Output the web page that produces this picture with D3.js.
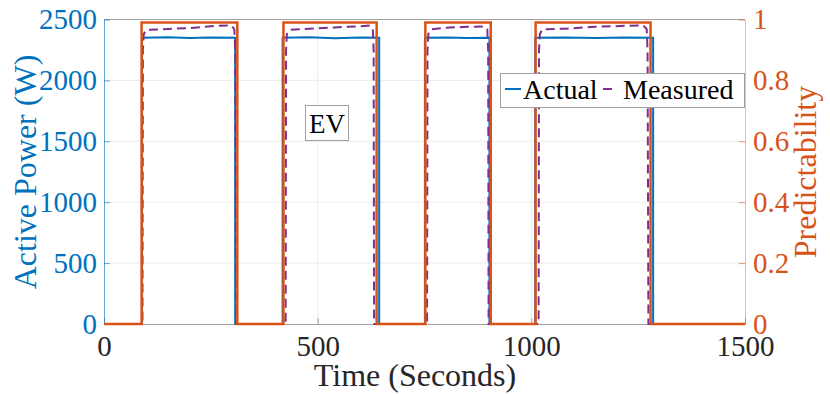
<!DOCTYPE html>
<html>
<head>
<meta charset="utf-8">
<script src="https://cdn.jsdelivr.net/npm/d3@7"></script>
<style>
  body { margin: 0; background: #fff; }
  svg { font-family: 'Liberation Serif', 'DejaVu Serif', serif; }
</style>
</head>
<body>
<div id="chart"></div>
<script>
// Actual power (W), step trace
const actualTime  = [0, 89, 89, 150, 200, 250, 307, 307, 418, 418, 480, 540, 600, 644, 644, 751, 751, 800, 850, 902, 902, 1009, 1009, 1080, 1150, 1220, 1285, 1285, 1500]
const actualPower = [0, 0, 2350, 2355, 2348, 2352, 2350, 0, 0, 2350, 2354, 2347, 2352, 2350, 0, 0, 2350, 2353, 2348, 2350, 0, 0, 2350, 2352, 2348, 2353, 2350, 0, 0]

// Measured power (W), dashed trace
const measuredTime  = [0, 90, 91, 93, 99, 150, 200, 250, 298, 305, 307, 309, 425, 426, 428, 434, 480, 540, 600, 622, 629, 631, 632, 756, 757, 759, 765, 800, 850, 890, 897, 899, 900, 1017, 1018, 1020, 1026, 1080, 1150, 1220, 1262, 1270, 1272, 1274, 1500]
const measuredPower = [0, 0, 2250, 2380, 2415, 2422, 2430, 2445, 2452, 2420, 2250, 0, 0, 2250, 2380, 2415, 2425, 2435, 2445, 2450, 2420, 2250, 0, 0, 2250, 2380, 2420, 2432, 2440, 2442, 2420, 2250, 0, 0, 2250, 2380, 2420, 2425, 2440, 2448, 2452, 2420, 2250, 0, 0]

// Predictability (right axis)
const predTime  = [0, 88, 88, 312, 312, 420, 420, 638, 638, 752, 752, 905, 905, 1010, 1010, 1279, 1279, 1500]
const predValue = [0, 0, 0.99, 0.99, 0, 0, 0.99, 0.99, 0, 0, 0.99, 0.99, 0, 0, 0.99, 0.99, 0, 0]

const xTicks = [0, 500, 1000, 1500]
const leftTicks = [0, 500, 1000, 1500, 2000, 2500]
const rightTicks = [0, 0.2, 0.4, 0.6, 0.8, 1]

const blue = '#0072BD', orange = '#D95319', purple = '#7E2F8E', dark = '#262626'

const svgWidth = 830, svgHeight = 394
const margin = { top: 19.5, right: 85, bottom: 70, left: 104 }
const width = svgWidth - margin.left - margin.right
const height = svgHeight - margin.top - margin.bottom

let svg = d3.select('#chart').append('svg')
    .attr('width', svgWidth)
    .attr('height', svgHeight)

let canvas = svg.append('g')
    .attr('transform', 'translate(' + margin.left + ',' + margin.top + ')')

let x = d3.scaleLinear().domain([0, 1500]).range([0, width])
let yLeft = d3.scaleLinear().domain([0, 2500]).range([height, 0])
let yRight = d3.scaleLinear().domain([0, 1]).range([height, 0])

// grid
canvas.append('g').selectAll('line')
    .data(xTicks.slice(1, -1))
    .enter().append('line')
    .attr('x1', d => x(d)).attr('x2', d => x(d))
    .attr('y1', 0).attr('y2', height)
    .attr('stroke', '#ebebeb').attr('stroke-width', 1)
canvas.append('g').selectAll('line')
    .data(leftTicks.slice(1, -1))
    .enter().append('line')
    .attr('x1', 0).attr('x2', width)
    .attr('y1', d => yLeft(d)).attr('y2', d => yLeft(d))
    .attr('stroke', '#ebebeb').attr('stroke-width', 1)

// top border
canvas.append('line')
    .attr('x1', 0).attr('x2', width).attr('y1', 0).attr('y2', 0)
    .attr('stroke', '#a0a0a0').attr('stroke-width', 1)

// axes
let xAxis = canvas.append('g')
    .attr('transform', 'translate(0,' + height + ')')
    .call(d3.axisBottom(x).tickValues(xTicks).tickFormat(d3.format('d')).tickSizeInner(-6).tickSizeOuter(0).tickPadding(11))
xAxis.select('.domain').attr('stroke', '#a0a0a0')
xAxis.selectAll('.tick line').attr('stroke', '#a0a0a0')
xAxis.selectAll('text').attr('fill', dark).attr('font-size', 29).attr('font-family', 'Liberation Serif')

let leftAxis = canvas.append('g')
    .call(d3.axisLeft(yLeft).tickValues(leftTicks).tickFormat(d3.format('d')).tickSizeInner(-6).tickSizeOuter(0).tickPadding(7))
leftAxis.select('.domain').attr('stroke', blue).attr('stroke-opacity', 0.6)
leftAxis.selectAll('.tick line').attr('stroke', blue).attr('stroke-opacity', 0.6)
leftAxis.selectAll('text').attr('fill', blue).attr('font-size', 29).attr('font-family', 'Liberation Serif')

let rightAxis = canvas.append('g')
    .attr('transform', 'translate(' + width + ',0)')
    .call(d3.axisRight(yRight).tickValues(rightTicks).tickFormat(d3.format('~g')).tickSizeInner(-6).tickSizeOuter(0).tickPadding(8))
rightAxis.select('.domain').attr('stroke', orange).attr('stroke-opacity', 0.4)
rightAxis.selectAll('.tick line').attr('stroke', orange).attr('stroke-opacity', 0.6)
rightAxis.selectAll('text').attr('fill', orange).attr('font-size', 29).attr('font-family', 'Liberation Serif')

// lines
let line = (xs, ys, yScale) => d3.line()
    .x((d, i) => x(xs[i]))
    .y(d => yScale(d))(ys)

canvas.append('path')
    .attr('d', line(actualTime, actualPower, yLeft))
    .attr('fill', 'none').attr('stroke', blue).attr('stroke-width', 2)

canvas.append('path')
    .attr('d', line(measuredTime, measuredPower, yLeft))
    .attr('fill', 'none').attr('stroke', purple).attr('stroke-width', 2)
    .attr('stroke-dasharray', '9,5')

canvas.append('path')
    .attr('d', line(predTime, predValue, yRight))
    .attr('fill', 'none').attr('stroke', orange).attr('stroke-width', 2.5)

// axis titles
svg.append('text')
    .attr('x', 415).attr('y', 386)
    .attr('text-anchor', 'middle')
    .attr('font-size', 32).attr('fill', dark)
    .text('Time (Seconds)')

svg.append('text')
    .attr('transform', 'translate(36,172) rotate(-90)')
    .attr('text-anchor', 'middle')
    .attr('font-size', 32).attr('fill', blue)
    .text('Active Power (W)')

svg.append('text')
    .attr('transform', 'translate(816,172) rotate(-90)')
    .attr('text-anchor', 'middle')
    .attr('font-size', 32).attr('fill', orange)
    .text('Predictability')

// EV label
svg.append('rect')
    .attr('x', 305.5).attr('y', 105.5).attr('width', 43).attr('height', 35)
    .attr('fill', '#fff').attr('stroke', '#a0a0a0')
svg.append('text')
    .attr('x', 327).attr('y', 133)
    .attr('text-anchor', 'middle')
    .attr('font-size', 27).attr('fill', '#000')
    .text('EV')

// legend
let legend = svg.append('g')
legend.append('rect')
    .attr('x', 500.5).attr('y', 73.5).attr('width', 244).attr('height', 34)
    .attr('fill', '#fff').attr('stroke', '#a0a0a0')
legend.append('line')
    .attr('x1', 505).attr('x2', 521).attr('y1', 89).attr('y2', 89)
    .attr('stroke', blue).attr('stroke-width', 2)
legend.append('text')
    .attr('x', 523).attr('y', 99)
    .attr('font-size', 28).attr('fill', '#000')
    .text('Actual')
legend.append('line')
    .attr('x1', 603).attr('x2', 612).attr('y1', 89).attr('y2', 89)
    .attr('stroke', purple).attr('stroke-width', 2)
legend.append('text')
    .attr('x', 623).attr('y', 99)
    .attr('font-size', 28).attr('fill', '#000')
    .text('Measured')
</script>
</body>
</html>
